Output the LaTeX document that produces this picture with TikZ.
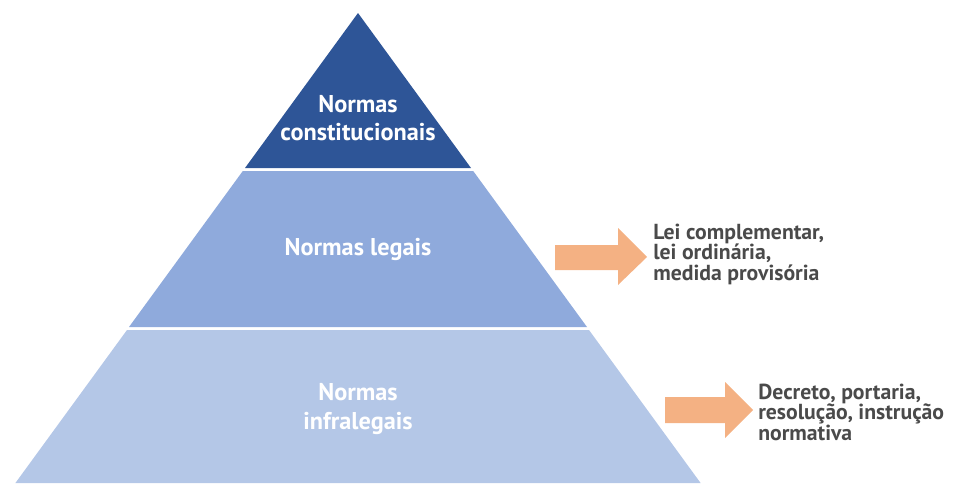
\documentclass[tikz,border=0pt]{standalone}
\usepackage{fontspec}
\setmainfont{PT Sans}
\definecolor{tierA}{HTML}{2E5597}
\definecolor{tierB}{HTML}{8FAADC}
\definecolor{tierC}{HTML}{B4C7E7}
\definecolor{arrowc}{HTML}{F4B183}
\definecolor{sidetext}{HTML}{4A4A4A}
\begin{document}
\begin{tikzpicture}[x=0.75pt,y=-0.75pt,
  tiertext/.style={text=white,font=\fontsize{18.2}{21.5}\selectfont\bfseries,align=center,inner sep=0pt},
  sidelabel/.style={text=sidetext,font=\fontsize{16.3}{15.4}\selectfont\bfseries,align=left,anchor=west,inner sep=0pt},
  bigarrow/.style={fill=arrowc,draw=none}]
\useasboundingbox (0,0) rectangle (953,483);
% tiers
\fill[tierA] (358,13) -- (471,168) -- (245,168) -- cycle;
\fill[tierB] (242.8,171) -- (473.2,171) -- (587,327) -- (129,327) -- cycle;
\fill[tierC] (127,330) -- (589,330) -- (700.6,483) -- (15.4,483) -- cycle;
% tier labels
\node[tiertext] (t1) at (358,118) {Normas\\constitucionais};
\node[tiertext] (t2) at (358,249) {Normas legais};
\node[tiertext] (t3) at (358,409) {Normas\\infralegais};
% arrows
\fill[bigarrow] (555,245) -- (618,245) -- (618,228) -- (647,257) -- (618,285) -- (618,270) -- (555,270) -- cycle;
\fill[bigarrow] (665,397) -- (725,397) -- (725,382) -- (753,410) -- (725,438) -- (725,423) -- (665,423) -- cycle;
% side labels
\node[sidelabel] (s1) at (653,254) {Lei complementar,\\lei ordinária,\\medida provisória};
\node[sidelabel] (s2) at (758,412) {Decreto, portaria,\\resolução, instrução\\normativa};
\end{tikzpicture}
\end{document}
